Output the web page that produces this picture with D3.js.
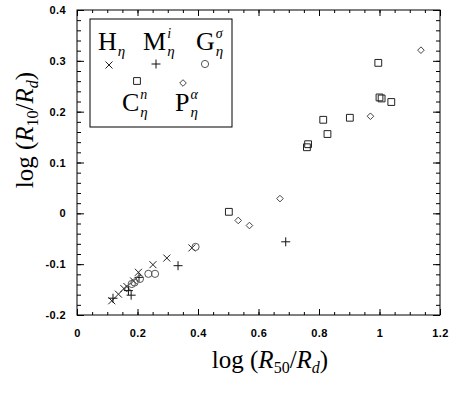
<!DOCTYPE html>
<html>
<head>
<meta charset="utf-8">
<script src="https://cdn.jsdelivr.net/npm/d3@7"></script>
<style>
  body { margin: 0; background: #fff; }
  .tick text { font-family: "Liberation Sans", Arial, sans-serif; font-weight: bold; font-size: 11px; letter-spacing: 0.4px; }
</style>
</head>
<body>
<div id="chart"></div>
<script>
// H_eta (crosses)
const hEta = [
    [0.115, -0.172], [0.137, -0.159], [0.155, -0.148], [0.165, -0.144],
    [0.187, -0.133], [0.203, -0.116], [0.251, -0.101], [0.297, -0.088],
    [0.380, -0.068]
];
// M_eta^i (plus)
const mEta = [
    [0.119, -0.167], [0.170, -0.152], [0.179, -0.161], [0.205, -0.126],
    [0.334, -0.103], [0.690, -0.056]
];
// G_eta^sigma (circles)
const gEta = [
    [0.181, -0.139], [0.190, -0.136], [0.208, -0.129], [0.236, -0.119],
    [0.258, -0.119], [0.392, -0.066]
];
// C_eta^n (squares)
const cEta = [
    [0.502, 0.003], [0.760, 0.130], [0.764, 0.136], [0.814, 0.184],
    [0.828, 0.156], [0.902, 0.188], [0.996, 0.296], [1.000, 0.228],
    [1.007, 0.226], [1.039, 0.219]
];
// P_eta^alpha (diamonds)
const pEta = [
    [0.533, -0.014], [0.570, -0.024], [0.671, 0.029], [0.970, 0.191],
    [1.137, 0.321]
];

const xTicks = [0, 0.2, 0.4, 0.6, 0.8, 1, 1.2];
const xTickLabels = ["0", "0.2", "0.4", "0.6", "0.8", "1", "1.2"];
const yTicks = [-0.2, -0.1, 0, 0.1, 0.2, 0.3, 0.4];
const yTickLabels = ["-0.2", "-0.1", "0", "0.1", "0.2", "0.3", "0.4"];

const W = 458, H = 394;
const margin = { top: 10, right: 18, bottom: 79, left: 77 };

const svg = d3.select("#chart").append("svg")
    .attr("width", W)
    .attr("height", H);

const x = d3.scaleLinear().domain([0, 1.2]).range([margin.left, W - margin.right]);
const y = d3.scaleLinear().domain([-0.2, 0.4]).range([H - margin.bottom, margin.top]);

const xMinor = d3.range(0, 1.2001, 0.05);
const yMinor = d3.range(-0.2, 0.4001, 0.02);

// minor ticks, all four sides, pointing inward
svg.append("g").attr("transform", `translate(0,${y.range()[0]})`)
    .call(d3.axisBottom(x).tickValues(xMinor).tickSize(-3).tickFormat(""));
svg.append("g").attr("transform", `translate(0,${y.range()[1]})`)
    .call(d3.axisTop(x).tickValues(xMinor).tickSize(-3).tickFormat(""));
svg.append("g").attr("transform", `translate(${x.range()[0]},0)`)
    .call(d3.axisLeft(y).tickValues(yMinor).tickSize(-4).tickFormat(""));
svg.append("g").attr("transform", `translate(${x.range()[1]},0)`)
    .call(d3.axisRight(y).tickValues(yMinor).tickSize(-4).tickFormat(""));

// major ticks
svg.append("g").attr("transform", `translate(0,${y.range()[0]})`)
    .call(d3.axisBottom(x).tickValues(xTicks).tickSize(-6).tickPadding(14)
        .tickFormat((d, i) => xTickLabels[i]));
svg.append("g").attr("transform", `translate(0,${y.range()[1]})`)
    .call(d3.axisTop(x).tickValues(xTicks).tickSize(-6).tickFormat(""));
svg.append("g").attr("transform", `translate(${x.range()[0]},0)`)
    .call(d3.axisLeft(y).tickValues(yTicks).tickSize(-7).tickPadding(11)
        .tickFormat((d, i) => yTickLabels[i]));
svg.append("g").attr("transform", `translate(${x.range()[1]},0)`)
    .call(d3.axisRight(y).tickValues(yTicks).tickSize(-7).tickFormat(""));

svg.selectAll(".domain").remove();
svg.selectAll(".tick line").attr("stroke", "#000");
svg.selectAll(".tick text").attr("fill", "#000");

// frame
svg.append("rect")
    .attr("x", x.range()[0]).attr("y", y.range()[1])
    .attr("width", x.range()[1] - x.range()[0])
    .attr("height", y.range()[0] - y.range()[1])
    .attr("fill", "none").attr("stroke", "#000").attr("stroke-width", 1);

// marker shapes
const shapes = {
    cross: s => `M${-s},${-s}L${s},${s}M${-s},${s}L${s},${-s}`,
    plus: s => `M${-s - 1},0L${s + 1},0M0,${-s - 1}L0,${s + 1}`,
    circle: s => `M${s},0A${s},${s} 0 1,1 ${-s},0A${s},${s} 0 1,1 ${s},0`,
    square: s => `M${-s},${-s}H${s}V${s}H${-s}Z`,
    diamond: s => `M0,${-s}L${s},0L0,${s}L${-s},0Z`
};

const series = [
    { data: hEta, shape: "cross", size: 3.5, color: "#222" },
    { data: mEta, shape: "plus", size: 3.5, color: "#111" },
    { data: gEta, shape: "circle", size: 3.6, color: "#555" },
    { data: cEta, shape: "square", size: 3.4, color: "#222" },
    { data: pEta, shape: "diamond", size: 3.3, color: "#444" }
];

series.forEach(s => {
    svg.append("g").selectAll("path")
        .data(s.data)
        .enter()
        .append("path")
        .attr("transform", d => `translate(${x(d[0])},${y(d[1])})`)
        .attr("d", shapes[s.shape](s.size))
        .attr("fill", "none")
        .attr("stroke", s.color)
        .attr("stroke-width", 1);
});

// legend
const serif = "'Liberation Serif', 'Times New Roman', serif";
const legend = svg.append("g");
legend.append("rect")
    .attr("x", 90).attr("y", 19).attr("width", 142).attr("height", 108)
    .attr("fill", "#fff").attr("stroke", "#000").attr("stroke-width", 1);

const legendItems = [
    { main: "H", sup: "", x: 98, y: 50, shape: "cross", mx: 109, my: 65 },
    { main: "M", sup: "i", x: 143, y: 50, shape: "plus", mx: 156, my: 64 },
    { main: "G", sup: "σ", x: 196, y: 50, shape: "circle", mx: 205, my: 64 },
    { main: "C", sup: "n", x: 122, y: 111, shape: "square", mx: 137, my: 81 },
    { main: "P", sup: "α", x: 175, y: 111, shape: "diamond", mx: 183, my: 83 }
];

legendItems.forEach(it => {
    const s = series.find(d => d.shape === it.shape);
    const t = legend.append("text")
        .attr("x", it.x).attr("y", it.y)
        .attr("font-family", serif).attr("font-size", 26);
    const m = t.append("tspan").text(it.main);
    const w = m.node().getComputedTextLength();
    // superscript and subscript stacked after the main letter
    if (it.sup) {
        t.append("tspan")
            .attr("x", it.x + w + 1).attr("y", it.y - 12)
            .attr("font-size", 14).attr("font-style", "italic")
            .text(it.sup);
    }
    t.append("tspan")
        .attr("x", it.x + w + 1).attr("y", it.y + 6)
        .attr("font-size", 15).attr("font-style", "italic")
        .text("η");
    legend.append("path")
        .attr("transform", `translate(${it.mx},${it.my})`)
        .attr("d", shapes[it.shape](s.size))
        .attr("fill", "none").attr("stroke", s.color).attr("stroke-width", 1);
});

// axis titles
function mathLabel(sel, sub) {
    sel.append("tspan").text("log (");
    sel.append("tspan").attr("font-style", "italic").text("R");
    sel.append("tspan").attr("font-size", 16).attr("dy", 5).text(sub);
    sel.append("tspan").attr("dy", -5).text("/");
    sel.append("tspan").attr("font-style", "italic").text("R");
    sel.append("tspan").attr("font-size", 16).attr("font-style", "italic").attr("dy", 5).text("d");
    sel.append("tspan").attr("dy", -5).text(")");
}

const xTitle = svg.append("text")
    .attr("x", 270).attr("y", 368)
    .attr("text-anchor", "middle")
    .attr("font-family", serif).attr("font-size", 25);
mathLabel(xTitle, "50");

const yTitle = svg.append("text")
    .attr("transform", "translate(33,130) rotate(-90)")
    .attr("text-anchor", "middle")
    .attr("font-family", serif).attr("font-size", 25);
mathLabel(yTitle, "10");
</script>
</body>
</html>
